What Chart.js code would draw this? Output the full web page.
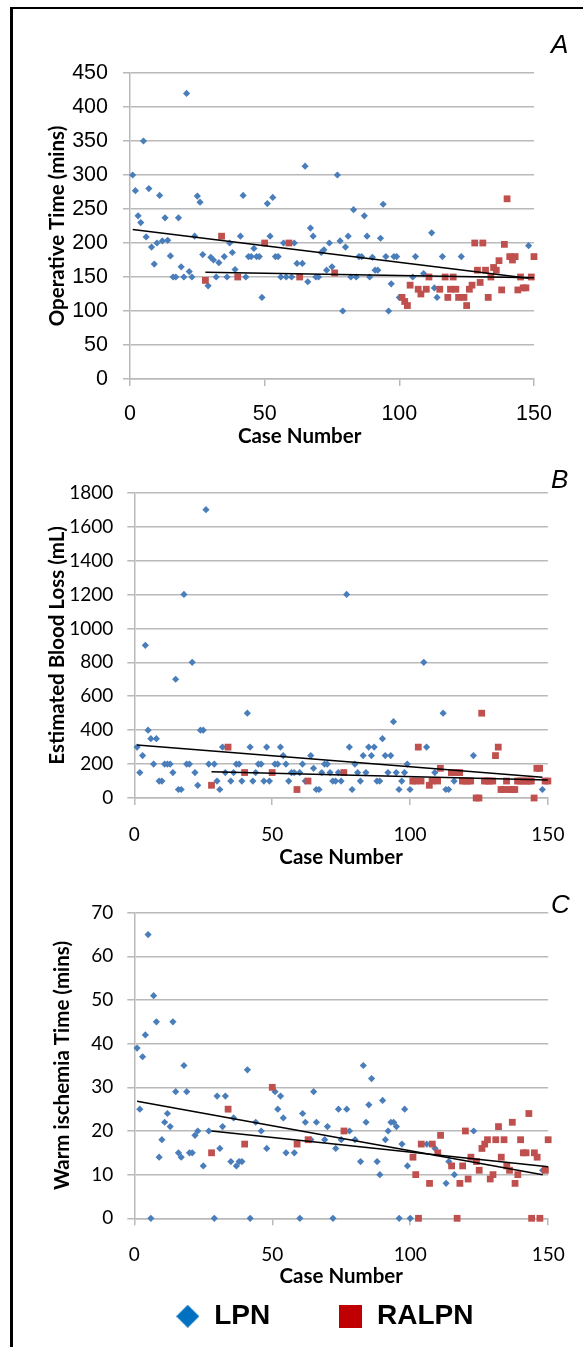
<!DOCTYPE html>
<html>
<head>
<meta charset="utf-8">
<script src="https://cdn.jsdelivr.net/npm/chart.js@4.4.0/dist/chart.umd.min.js"></script>
<style>
html, body { margin: 0; padding: 0; background: #fff; }
body { width: 583px; height: 1347px; position: relative; overflow: hidden; }
.frame { position: absolute; left: 10px; top: 7px; width: 700px; height: 1400px; border-left: 3px solid #000; border-top: 2px solid #000; }
canvas { position: absolute; left: 0; }
.tag { position: absolute; left: 551px; font: italic 26px "Liberation Sans", Arial, sans-serif; line-height: 26px; color: #000; }
</style>
</head>
<body>
<div class="frame"></div>
<canvas id="chartA" width="583" height="450" style="top:0px"></canvas>
<canvas id="chartB" width="583" height="420" style="top:450px"></canvas>
<canvas id="chartC" width="583" height="420" style="top:870px"></canvas>
<canvas id="legend" width="583" height="130" style="top:1230px"></canvas>
<div class="tag" style="top:31px">A</div>
<div class="tag" style="top:466px">B</div>
<div class="tag" style="top:891px">C</div>
<script>
// A - operative time (mins)
var timeLpnCase = [1,2,3,4,5,6,7,8,9,10,11,12,13,14,15,16,17,18,19,20,21,22,23,24,25,26,27,
    29,30,31,32,33,35,36,37,38,39,41,42,43,44,45,46,47,48,49,51,52,53,54,55,56,57,58,
    60,61,62,64,65,66,67,68,69,70,71,72,73,74,75,77,78,79,80,81,82,83,84,85,86,87,88,89,90,
    91,92,93,94,95,96,97,98,99,100,105,106,109,112,113,114,116,123,148];
var timeLpnMins = [300,277,240,230,350,209,280,194,169,200,270,203,237,204,181,150,150,237,165,150,420,158,150,210,269,260,183,
    137,179,175,150,171,180,150,200,186,161,210,270,150,180,180,192,180,180,120,258,210,267,180,180,150,200,150,
    150,200,170,170,313,143,222,210,150,150,186,190,160,200,165,300,203,100,194,210,150,249,150,180,180,240,210,150,179,
    160,160,207,257,180,100,140,180,180,120,150,180,155,215,134,120,180,180,196];
var timeRalpnCase = [28,34,40,50,59,63,76,101,102,103,104,107,108,110,111,115,117,118,119,120,121,122,
    124,125,126,127,128,129,130,131,132,133,134,135,136,137,138,139,140,141,142,143,144,145,146,147,149,150];
var timeRalpnMins = [145,210,150,200,200,150,156,120,114,108,138,132,125,132,150,132,150,120,132,150,132,120,
    120,108,132,138,200,160,142,200,160,120,150,164,160,174,131,198,265,180,175,180,131,150,134,134,150,180];
var timeLpnTrendCase = [1, 148];
var timeLpnTrendMins = [220, 148];
var timeRalpnTrendCase = [28, 150];
var timeRalpnTrendMins = [157, 149];

// B - estimated blood loss (mL)
var lossLpnCase = timeLpnCase;
var lossLpnMl = [300,150,250,900,400,350,200,350,100,100,200,200,200,150,700,50,50,1200,200,200,800,150,75,400,400,1700,200,
    200,100,50,300,150,100,150,200,200,100,500,300,100,150,200,200,100,300,100,200,200,300,250,200,100,150,150,
    150,200,100,250,175,50,50,150,200,200,150,100,100,150,100,1200,300,50,200,150,100,250,150,300,250,300,100,100,350,
    250,150,250,450,150,50,100,150,200,50,800,300,150,500,50,50,100,250,50];
var lossRalpnCase = timeRalpnCase;
var lossRalpnMl = [75,300,150,150,50,100,150,100,100,300,100,75,100,100,175,150,150,150,100,100,100,100,
    0,0,500,100,100,100,100,250,300,50,50,100,50,50,50,100,100,100,100,100,100,0,175,175,100,100];
var lossLpnTrendCase = [1, 148];
var lossLpnTrendMl = [312, 122];
var lossRalpnTrendCase = [28, 150];
var lossRalpnTrendMl = [155, 106];

// C - warm ischemia time (mins)
var wiLpnCase = [1,2,3,4,5,6,7,8,9,10,11,12,13,14,15,16,17,18,19,20,21,22,23,25,27,29,30,31,32,33,
    35,36,37,38,39,41,42,44,46,48,51,52,53,54,55,58,60,61,62,64,65,66,69,70,72,73,74,75,77,78,
    80,82,83,84,85,86,88,89,90,91,92,93,94,95,96,97,98,99,100,106,109,113,114,116,123,148];
var wiLpnMins = [39,25,37,42,65,0,51,45,14,18,22,24,21,45,29,15,14,35,29,15,15,19,20,12,20,0,28,16,21,28,
    13,23,12,13,13,34,0,22,20,16,29,25,28,23,15,15,0,24,22,18,29,22,18,21,0,16,25,18,25,20,
    18,13,35,22,26,32,13,10,27,18,20,22,22,21,0,17,25,12,0,17,16,8,13,10,20,11];
var wiRalpnCase = timeRalpnCase;
var wiRalpnMins = [15,25,17,30,17,18,20,14,10,0,17,8,17,15,19,12,0,8,12,20,9,14,
    13,11,16,17,18,9,10,18,21,14,18,12,11,22,8,10,18,15,15,24,0,15,14,0,11,18];
var wiLpnTrendCase = [1, 148];
var wiLpnTrendMins = [26.8, 10];
var wiRalpnTrendCase = [28, 150];
var wiRalpnTrendMins = [20, 11.8];

var gridGrey = '#b9b9b9';

function toPoints(xs, ys) {
    return xs.map(function (x, i) { return {x: x, y: ys[i]}; });
}

function trendSet(xs, ys) {
    return {
        label: 'trend',
        data: toPoints(xs, ys),
        showLine: true,
        borderColor: '#000',
        borderWidth: 1.5,
        pointRadius: 0,
        fill: false,
        clip: false
    };
}

function buildChart(id, s) {
    return new Chart(document.getElementById(id), {
        type: 'scatter',
        data: {
            datasets: [
                trendSet(s.lpnTrend[0], s.lpnTrend[1]),
                trendSet(s.ralpnTrend[0], s.ralpnTrend[1]),
                {
                    label: 'RALPN',
                    data: toPoints(s.ralpn[0], s.ralpn[1]),
                    pointStyle: 'rect',
                    pointRadius: 4.8,
                    pointBackgroundColor: '#c0504d',
                    pointBorderWidth: 0,
                    clip: false
                },
                {
                    label: 'LPN',
                    data: toPoints(s.lpn[0], s.lpn[1]),
                    pointStyle: 'rectRot',
                    pointRadius: 3.6,
                    pointBackgroundColor: '#4a7ebb',
                    pointBorderWidth: 0,
                    clip: false
                }
            ]
        },
        options: {
            responsive: false,
            animation: false,
            events: [],
            layout: { padding: { top: s.top, right: s.right, left: 0, bottom: 0 } },
            plugins: { legend: { display: false }, tooltip: { enabled: false } },
            scales: {
                x: {
                    type: 'linear', min: 0, max: 150,
                    ticks: { stepSize: 50, color: '#000', padding: s.xTickPad, font: { family: s.tickFont, size: s.tickSize } },
                    grid: { drawOnChartArea: false, tickLength: 7, color: gridGrey, lineWidth: 1.5 },
                    border: { color: gridGrey, width: 1.5 },
                    title: {
                        display: true, text: s.xTitle, color: '#000',
                        font: { family: 'Lato', weight: 'bold', size: 20.5 },
                        padding: { top: 0, bottom: s.xTitlePad }
                    },
                    afterFit: function (axis) { axis.height = s.xHeight; }
                },
                y: {
                    type: 'linear', min: 0, max: s.yMax,
                    ticks: {
                        stepSize: s.yStep, color: '#000', padding: s.yTickPad,
                        font: { family: s.tickFont, size: s.tickSize },
                        callback: function (v) { return String(v); }
                    },
                    grid: { tickLength: 7, color: gridGrey, lineWidth: 1.5 },
                    border: { color: gridGrey, width: 1.5 },
                    title: {
                        display: true, text: s.yTitle, color: '#000',
                        font: { family: 'Lato', weight: 'bold', size: 20.5 },
                        padding: { top: s.yTitlePad, bottom: 0 }
                    },
                    afterFit: function (axis) { axis.width = s.yWidth; }
                }
            }
        }
    });
}

// panel A's axis title sits left of centre in the original, trailing spaces push it over
buildChart('chartA', {
    lpn: [timeLpnCase, timeLpnMins], ralpn: [timeRalpnCase, timeRalpnMins],
    lpnTrend: [timeLpnTrendCase, timeLpnTrendMins], ralpnTrend: [timeRalpnTrendCase, timeRalpnTrendMins],
    yMax: 450, yStep: 50, yTitle: 'Operative Time (mins)', xTitle: 'Case Number             ',
    tickFont: 'Liberation Sans', tickSize: 21.5,
    top: 73, right: 49, yWidth: 130, xHeight: 71,
    xTickPad: 15, xTitlePad: 1.7, yTickPad: 15, yTitlePad: 44.7
});

buildChart('chartB', {
    lpn: [lossLpnCase, lossLpnMl], ralpn: [lossRalpnCase, lossRalpnMl],
    lpnTrend: [lossLpnTrendCase, lossLpnTrendMl], ralpnTrend: [lossRalpnTrendCase, lossRalpnTrendMl],
    yMax: 1800, yStep: 200, yTitle: 'Estimated Blood Loss (mL)', xTitle: 'Case Number',
    tickFont: 'Lato', tickSize: 19,
    top: 42.7, right: 30, yWidth: 134.3, xHeight: 72,
    xTickPad: 18.6, xTitlePad: 0.7, yTickPad: 14, yTitlePad: 44.7
});

buildChart('chartC', {
    lpn: [wiLpnCase, wiLpnMins], ralpn: [wiRalpnCase, wiRalpnMins],
    lpnTrend: [wiLpnTrendCase, wiLpnTrendMins], ralpnTrend: [wiRalpnTrendCase, wiRalpnTrendMins],
    yMax: 70, yStep: 10, yTitle: 'Warm ischemia Time (mins)', xTitle: 'Case Number',
    tickFont: 'Lato', tickSize: 19,
    top: 42.7, right: 30, yWidth: 134.3, xHeight: 71.7,
    xTickPad: 18.3, xTitlePad: 1.7, yTickPad: 14, yTitlePad: 49.7
});

// legend markers: diamond and square of the same size
function marker(kind, color, size) {
    var c = document.createElement('canvas');
    c.width = size; c.height = size;
    var g = c.getContext('2d');
    g.fillStyle = color;
    if (kind === 'diamond') {
        g.beginPath();
        g.moveTo(size / 2, 0); g.lineTo(size, size / 2);
        g.lineTo(size / 2, size); g.lineTo(0, size / 2);
        g.closePath(); g.fill();
    } else {
        g.fillRect(0, 0, size, size);
    }
    return c;
}

new Chart(document.getElementById('legend'), {
    type: 'scatter',
    data: {
        datasets: [
            { label: 'LPN', data: [], pointStyle: marker('diamond', '#0070c0', 23), backgroundColor: '#0070c0' },
            { label: 'RALPN', data: [], pointStyle: marker('square', '#c00000', 23), backgroundColor: '#c00000' }
        ]
    },
    options: {
        responsive: false,
        animation: false,
        events: [],
        layout: { padding: { top: 4.5, left: 107.4, right: 0, bottom: 0 } },
        scales: { x: { display: false }, y: { display: false } },
        plugins: {
            tooltip: { enabled: false },
            legend: {
                position: 'top',
                align: 'start',
                maxHeight: 125,
                labels: {
                    usePointStyle: true,
                    boxWidth: 25,
                    boxHeight: 25,
                    padding: 67.8,
                    color: '#000',
                    font: { family: 'Liberation Sans', weight: 'bold', size: 28 }
                }
            }
        }
    }
});
</script>
</body>
</html>
